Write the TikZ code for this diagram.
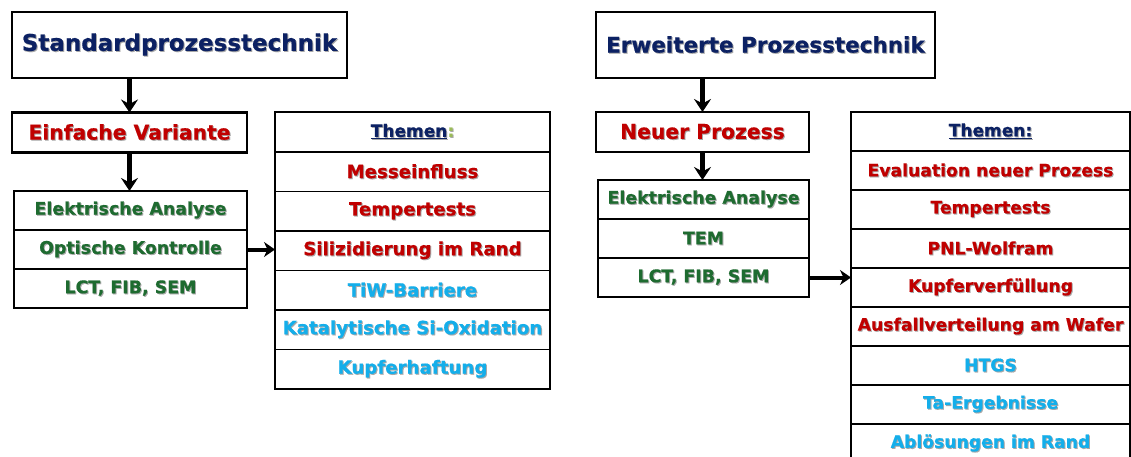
\documentclass[tikz,border=0pt]{standalone}
\usepackage{fontspec}
\setmainfont{DejaVu Sans}
\newfontfamily\hv{DejaVu Sans Bold}[FakeBold=0.6]
\usetikzlibrary{arrows.meta}
\definecolor{tblue}{HTML}{0C2163}
\definecolor{tred}{HTML}{C00000}
\definecolor{tgreen}{HTML}{1E6B30}
\definecolor{tcyan}{HTML}{14AEEA}
\definecolor{tlgreen}{HTML}{9BBB59}
\definecolor{tshadow}{HTML}{A8A8A8}
\newcommand\shtxt[2]{\leavevmode\rlap{\kern1pt\raisebox{-1pt}{\color{tshadow}#2}}{\color{#1}#2}}
\begin{document}
\begin{tikzpicture}[x=1pt,y=-1pt,
  every node/.style={inner sep=0pt, outer sep=0pt, align=center},
  titlebox/.style={draw, line width=2.6pt, minimum height=66pt},
  varbox/.style={draw, line width=2.2pt, minimum height=40pt, font=\hv\fontsize{20.3}{22}\selectfont},
  anbox/.style={draw, line width=2.2pt, minimum height=39pt, font=\hv\fontsize{17.4}{19}\selectfont},
  thbox/.style={draw, line width=1.6pt, minimum height=39.5pt, font=\hv\fontsize{18.2}{20}\selectfont},
  rthbox/.style={thbox, minimum width=279pt, minimum height=39pt, font=\hv\fontsize{17.2}{19}\selectfont},
  thhead/.style={draw, line width=2.2pt, minimum height=40pt, font=\hv\fontsize{17}{19}\selectfont},
  arr/.style={line width=4.4pt, -{Stealth[length=13pt,width=17pt,inset=4.5pt]}},
  harr/.style={line width=4pt, -{Stealth[length=11pt,width=15pt,inset=3.5pt]}}
]
\clip (0,0) rectangle (1131,457);
\fill[white] (0,0) rectangle (1131,457);

% left column
\node[titlebox, minimum width=335pt, font=\hv\fontsize{23}{25}\selectfont] (t1) at (179.5,45) {\shtxt{tblue}{Standardprozesstechnik}};
\node[varbox, minimum width=235pt] (v1) at (129.5,132.5) {\shtxt{tred}{Einfache Variante}};
\node[anbox, minimum width=233pt] (a1) at (130.5,210.5) {\shtxt{tgreen}{Elektrische Analyse}};
\node[anbox, minimum width=233pt] (a2) at (130.5,249.5) {\shtxt{tgreen}{Optische Kontrolle}};
\node[anbox, minimum width=233pt] (a3) at (130.5,288.5) {\shtxt{tgreen}{LCT, FIB, SEM}};

% left topics
\node[thhead, minimum width=275pt] (lh) at (412.5,132) {\shtxt{tblue}{\underline{Themen}}\shtxt{tlgreen}{:}};
\node[thbox, minimum width=275pt] (l1) at (412.5,171.75) {\shtxt{tred}{Messeinfluss}};
\node[thbox, minimum width=275pt] (l2) at (412.5,211.25) {\shtxt{tred}{Tempertests}};
\node[thbox, minimum width=275pt] (l3) at (412.5,250.75) {\shtxt{tred}{Silizidierung im Rand}};
\node[thbox, minimum width=275pt] (l4) at (412.5,290.25) {\shtxt{tcyan}{TiW-Barriere}};
\node[thbox, minimum width=275pt] (l5) at (412.5,329.75) {\shtxt{tcyan}{Katalytische Si-Oxidation}};
\node[thbox, minimum width=275pt] (l6) at (412.5,369.25) {\shtxt{tcyan}{Kupferhaftung}};

% right column
\node[titlebox, minimum width=339pt, font=\hv\fontsize{21.5}{24}\selectfont] (t2) at (765.5,45) {\shtxt{tblue}{Erweiterte Prozesstechnik}};
\node[varbox, minimum width=213pt] (v2) at (702.5,132) {\shtxt{tred}{Neuer Prozess}};
\node[anbox, minimum width=211pt] (b1) at (703.5,199.5) {\shtxt{tgreen}{Elektrische Analyse}};
\node[anbox, minimum width=211pt] (b2) at (703.5,238.5) {\shtxt{tgreen}{TEM}};
\node[anbox, minimum width=211pt] (b3) at (703.5,277.5) {\shtxt{tgreen}{LCT, FIB, SEM}};

% right topics
\node[thhead, minimum width=279pt, minimum height=39pt] (rh) at (990.5,131.5) {\shtxt{tblue}{\underline{Themen:}}};
\node[rthbox] (r1) at (990.5,170.5) {\shtxt{tred}{Evaluation neuer Prozess}};
\node[rthbox] (r2) at (990.5,209.5) {\shtxt{tred}{Tempertests}};
\node[rthbox] (r3) at (990.5,248.5) {\shtxt{tred}{PNL-Wolfram}};
\node[rthbox] (r4) at (990.5,287.5) {\shtxt{tred}{Kupferverfüllung}};
\node[rthbox] (r5) at (990.5,326.5) {\shtxt{tred}{Ausfallverteilung am Wafer}};
\node[rthbox] (r6) at (990.5,365.5) {\shtxt{tcyan}{HTGS}};
\node[rthbox] (r7) at (990.5,404.5) {\shtxt{tcyan}{Ta-Ergebnisse}};
\node[rthbox] (r8) at (990.5,443.5) {\shtxt{tcyan}{Ablösungen im Rand}};

% connectors
\draw[arr] (t1.south -| v1.north) -- (v1.north);
\draw[arr] (v1.south) -- (v1.south |- a1.north);
\draw[harr] (a2.east) -- (a2.east -| l3.west);
\draw[arr] (t2.south -| v2.north) -- (v2.north);
\draw[arr] (v2.south) -- (v2.south |- b1.north);
\draw[harr] (b3.east) -- (b3.east -| r4.west);
\end{tikzpicture}
\end{document}
